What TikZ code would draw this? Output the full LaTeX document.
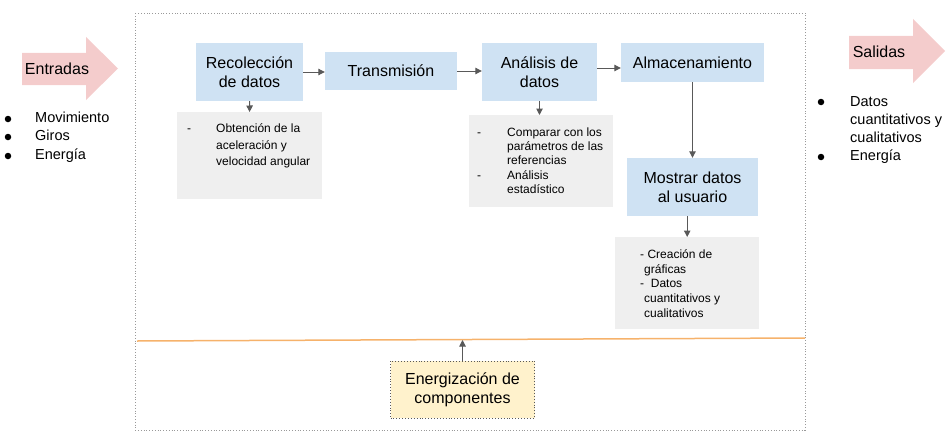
\documentclass[tikz,border=0pt]{standalone}
\usepackage{fontspec}
\setmainfont{Liberation Sans}
\usetikzlibrary{arrows.meta}

\definecolor{boxblue}{HTML}{CFE2F3}
\definecolor{boxgray}{HTML}{EFEFEF}
\definecolor{boxyellow}{HTML}{FFF2CC}
\definecolor{arrowpink}{HTML}{F4CCCC}
\definecolor{lineorange}{HTML}{F6B26B}
\definecolor{linkgray}{HTML}{595959}

\begin{document}
\begin{tikzpicture}[x=1pt, y=-1pt,
        stage/.style={fill=boxblue, inner sep=0pt, align=center, font=\fontsize{16}{19}\selectfont},
        note/.style={fill=boxgray, inner sep=0pt, anchor=north west},
        notetext/.style={inner sep=0pt, anchor=north west, font=\fontsize{12}{#1}\selectfont},
        listtext/.style={inner sep=0pt, font=\fontsize{14.5}{18}\selectfont},
        dot/.style={circle, fill=black, inner sep=0pt, minimum size=6.5pt},
        link/.style={draw=linkgray, line width=1pt, -{Triangle[length=6.5pt, width=6.5pt]}}
    ]

        \useasboundingbox (0,0) rectangle (952,444);

        % system frame
        \draw[black!40, dotted, line width=0.8pt] (135,13) rectangle (805,430);

        % inputs and outputs
        \fill[arrowpink] (22,53) -- (86,53) -- (86,37) -- (118,68.5) -- (86,100) -- (86,85) -- (22,85) -- cycle;
        \node[inner sep=0pt, font=\fontsize{16}{19}\selectfont] (entradas) at (57,69) {Entradas};
        \fill[arrowpink] (849,36) -- (913,36) -- (913,19) -- (945,51) -- (913,83) -- (913,69) -- (849,69) -- cycle;
        \node[inner sep=0pt, font=\fontsize{16}{19}\selectfont] (salidas) at (879,52) {Salidas};

        \foreach \name/\y/\txt in {mov/119/Movimiento, gir/137/Giros, ene/156/Energía}
            {
                \node[dot] (dot\name) at (8,\y) {};
                \node[listtext, anchor=west, text height=10pt, text depth=3pt] (\name) at (35,\y) {\txt};
            }

        \node[dot] (dotdatos) at (821,102) {};
        \node[listtext, anchor=north west, align=left] (datos) at (850,96) {Datos\\cuantitativos y\\cualitativos};
        \node[dot] (dotener) at (821,157) {};
        \node[listtext, anchor=west, text height=10pt, text depth=3pt] (ener) at (850,157) {Energía};

        % stages
        \node[stage, minimum width=107pt, minimum height=58pt] (recol) at (249.5,72) {Recolección\\de datos};
        \node[stage, minimum width=132pt, minimum height=38pt] (trans) at (391,71) {Transmisión};
        \node[stage, minimum width=115pt, minimum height=58pt] (anal) at (539.5,72) {Análisis de\\datos};
        \node[stage, minimum width=143pt, minimum height=39pt] (alma) at (692.5,62.5) {Almacenamiento};
        \node[stage, minimum width=131pt, minimum height=58pt] (mostrar) at (692.5,187) {Mostrar datos\\al usuario};

        % notes
        \node[note, minimum width=145pt, minimum height=87pt] (obt) at (177,112) {};
        \node[notetext=16.5] (obttext) at (187,121) {\begin{tabular}{@{}p{29pt}@{}l@{}}
                - & Obtención de la\\
                  & aceleración y\\
                  & velocidad angular
            \end{tabular}};
        \node[note, minimum width=144pt, minimum height=92pt] (cmp) at (469,115) {};
        \node[notetext=14.3] (cmptext) at (477,126) {\begin{tabular}{@{}p{30pt}@{}l@{}}
                - & Comparar con los\\
                  & parámetros de las\\
                  & referencias\\
                - & Análisis\\
                  & estadístico
            \end{tabular}};
        \node[note, minimum width=144pt, minimum height=92pt] (crea) at (615,237) {};
        \node[notetext=14.7] (creatext) at (640,248) {\begin{tabular}{@{}l@{}}
                - Creación de\\
                \hspace{4pt}gráficas\\
                - \ Datos\\
                \hspace{4pt}cuantitativos y\\
                \hspace{4pt}cualitativos
            \end{tabular}};

        % power supply
        \coordinate (lineleft) at (137,341);
        \coordinate (lineright) at (805,338);
        \draw[lineorange, line width=1.5pt] (lineleft) -- (lineright);
        \node[stage, fill=boxyellow, draw=black!65, dotted, line width=0.9pt, minimum width=144pt, minimum height=57pt] (energ) at (462.5,389.5) {Energización de\\componentes};
        \coordinate (linehit) at (462.5,340);

        % links
        \draw[link] (recol.east) -- (recol.east -| trans.west);
        \draw[link] (trans.east) -- (trans.east -| anal.west);
        \draw[link] ([yshift=4pt]anal.east) -- ([yshift=4pt]anal.east -| alma.west);
        \draw[link] (recol) -- (obt);
        \draw[link] (anal.south) -- (anal.south |- cmp.north);
        \draw[link] (alma) -- (mostrar);
        \draw[link] (crea.north |- mostrar.south) -- (crea.north);
        \draw[link] (energ) -- (linehit);
    \end{tikzpicture}
\end{document}
